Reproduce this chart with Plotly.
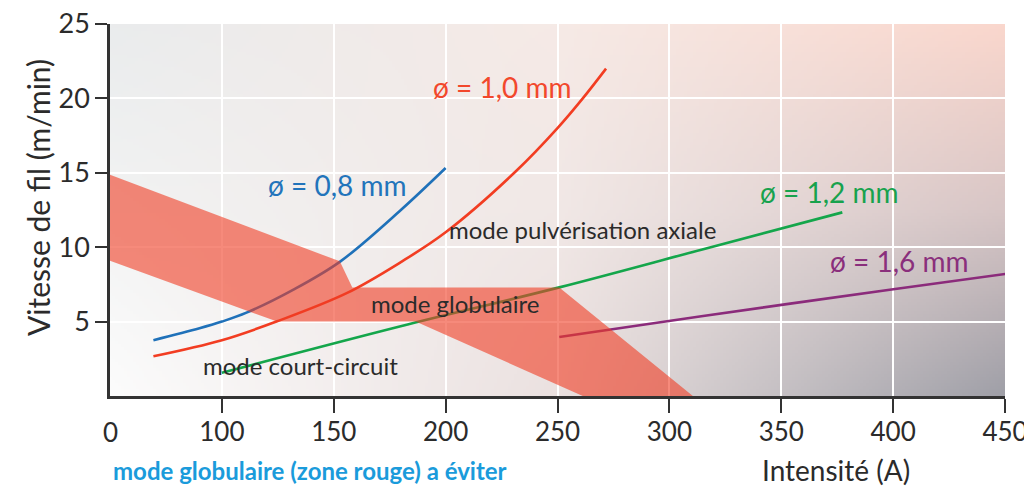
import base64
import struct
import zlib

import numpy as np
import plotly.graph_objects as go

# ---------------- data ----------------
x_tick_vals = [50, 100, 150, 200, 250, 300, 350, 400, 450]
x_tick_text = ["0", "100", "150", "200", "250", "300", "350", "400", "450"]
y_tick_vals = [5, 10, 15, 20, 25]
y_tick_text = ["5", "10", "15", "20", "25"]

d08_x = [69.4, 90, 100, 111, 132, 153, 180, 200]
d08_y = [3.75, 4.55, 5.0, 5.6, 7.15, 9.05, 12.5, 15.32]

d10_x = [69.4, 100, 124.7, 156, 180, 200, 231.4, 250, 261.3, 271.7]
d10_y = [2.67, 3.75, 5.02, 6.93, 9.0, 11.0, 15.1, 18.0, 20.0, 22.0]

d12_x = [100, 179.9, 250.8, 314.3, 377.3]
d12_y = [1.56, 4.69, 7.3, 9.83, 12.34]

d16_x = [250.8, 314.3, 400.9, 450.9]
d16_y = [3.97, 5.36, 7.19, 8.22]

zone_x = [50, 152.7, 158.3, 250.8, 310.5, 261.3, 186.6, 124.7, 50, 50]
zone_y = [14.87, 9.05, 7.3, 7.3, 0.0, 0.0, 5.0, 5.0, 9.09, 14.87]

series_names = ["ø = 0,8 mm", "ø = 1,0 mm", "ø = 1,2 mm", "ø = 1,6 mm"]
label_x = [151.5, 225.4, 371.6, 403.0]
label_y = [14.2, 20.75, 13.72, 9.05]

mode_names = ["mode pulvérisation axiale", "mode globulaire", "mode court-circuit"]
mode_x = [261.1, 204.2, 135.3]
mode_y = [11.22, 6.25, 2.05]

x_title = "Intensité (A)"
y_title = "Vitesse de fil (m/min)"
note = "mode globulaire (zone rouge) a éviter"

# ---------------- styles ----------------
FONT = "Lato"
colors = ["#1f71b9", "#f23d22", "#14a64b", "#8b2b7b"]
label_colors = ["#2274bb", "#f2482c", "#17a24d", "#8a2f7c"]
TXT = "#2b2b2b"
OFF = 8  # page body margin
FW, FH = 1032, 491
L, T = 102, 16
R = FW - (1005 - OFF)          # plot right edge at page x 1005
B = FH - (396 - OFF)           # plot bottom at page y 396
PW, PH = FW - L - R, FH - T - B


def make_png(rgb):
    h, w, _ = rgb.shape
    raw = b"".join(b"\x00" + rgb[r].astype(np.uint8).tobytes() for r in range(h))

    def chunk(tag, data):
        c = struct.pack(">I", len(data)) + tag + data
        return c + struct.pack(">I", zlib.crc32(tag + data) & 0xFFFFFFFF)

    png = b"\x89PNG\r\n\x1a\n"
    png += chunk(b"IHDR", struct.pack(">IIBBBBB", w, h, 8, 2, 0, 0, 0))
    png += chunk(b"IDAT", zlib.compress(raw, 9))
    png += chunk(b"IEND", b"")
    return "data:image/png;base64," + base64.b64encode(png).decode()


# background gradient (style only)
ctrl = np.array([
    [[234, 236, 237], [246, 234, 230], [250, 215, 205]],
    [[242, 243, 243], [241, 232, 230], [216, 198, 198]],
    [[252, 252, 252], [235, 225, 224], [160, 160, 168]],
], dtype=float)
W, H = 300, 125
u = np.linspace(0, 1, W)
v = np.linspace(0, 1, H)
knots = [0, 0.5, 1]
rows = np.zeros((3, W, 3))
for r in range(3):
    for ch in range(3):
        rows[r, :, ch] = np.interp(u, knots, ctrl[r, :, ch])
img = np.zeros((H, W, 3))
for ch in range(3):
    for i in range(W):
        img[:, i, ch] = np.interp(v, knots, rows[:, i, ch])
bg_src = make_png(np.clip(img, 0, 255))

fig = go.Figure()

for xs, ys, c in zip([d08_x, d10_x, d12_x, d16_x], [d08_y, d10_y, d12_y, d16_y], colors):
    fig.add_trace(go.Scatter(x=xs, y=ys, mode="lines", line=dict(color=c, width=2.6, shape="spline", smoothing=1.0),
                             hoverinfo="skip", showlegend=False))

fig.add_trace(go.Scatter(x=zone_x, y=zone_y, mode="lines", fill="toself", fillcolor="rgba(240,60,35,0.6)",
                         line=dict(width=0), hoverinfo="skip", showlegend=False))

fig.add_layout_image(dict(source=bg_src, xref="x", yref="y", x=50, y=25, sizex=400, sizey=25,
                          sizing="stretch", xanchor="left", yanchor="top", layer="below"))


def px_x(p):
    return (p - OFF - L) / PW


def px_y(p):
    return (FH - B - (p - OFF)) / PH


annotations = []
for t, x, y, c in zip(series_names, label_x, label_y, label_colors):
    annotations.append(dict(text=t, x=x, y=y, xref="x", yref="y", showarrow=False,
                            xanchor="center", yanchor="middle",
                            font=dict(family=FONT, size=28, color=c)))
for t, x, y in zip(mode_names, mode_x, mode_y):
    annotations.append(dict(text=t, x=x, y=y, xref="x", yref="y", showarrow=False,
                            xanchor="center", yanchor="middle",
                            font=dict(family=FONT, size=24, color=TXT)))
# first x tick label (axis starts at that tick, without tick mark)
annotations.append(dict(text=x_tick_text[0], x=x_tick_vals[0], y=px_y(432), xref="x", yref="paper",
                        showarrow=False, xanchor="center", yanchor="middle",
                        font=dict(family=FONT, size=26, color=TXT)))
annotations.append(dict(text=x_title, x=px_x(836), y=px_y(470), xref="paper", yref="paper", showarrow=False,
                        xanchor="center", yanchor="middle", font=dict(family=FONT, size=28, color=TXT)))
annotations.append(dict(text=y_title, x=px_x(38), y=px_y(198), xref="paper", yref="paper", showarrow=False,
                        xanchor="center", yanchor="middle", textangle=-90,
                        font=dict(family=FONT, size=30, color=TXT)))
annotations.append(dict(text="<b>" + note + "</b>", x=px_x(111), y=px_y(470), xref="paper", yref="paper",
                        showarrow=False, xanchor="left", yanchor="middle",
                        font=dict(family=FONT, size=24, color="#1a9bdb")))

fig.update_layout(
    width=FW, height=FH,
    margin=dict(l=L, r=R, t=T, b=B),
    paper_bgcolor="white", plot_bgcolor="white",
    annotations=annotations,
    xaxis=dict(range=[50, 450], tickvals=x_tick_vals[1:], ticktext=x_tick_text[1:], automargin=False,
               showgrid=True, gridcolor="white", gridwidth=2, zeroline=False,
               showline=True, linecolor="#333", linewidth=2.5,
               ticks="outside", ticklen=14, tickwidth=2, tickcolor="#333",
               ticklabelstandoff=-3, ticklabeloverflow="allow",
               tickfont=dict(family=FONT, size=26, color=TXT)),
    yaxis=dict(range=[0, 25], tickvals=y_tick_vals, ticktext=y_tick_text, automargin=False,
               showgrid=True, gridcolor="white", gridwidth=2, zeroline=False,
               showline=True, linecolor="#333", linewidth=2.5,
               ticks="outside", ticklen=12, tickwidth=2, tickcolor="#333",
               ticklabeloverflow="allow",
               tickfont=dict(family=FONT, size=27, color=TXT)),
)

fig.write_html(
    "out.html",
    post_script="document.documentElement.style.overflow='hidden';",
)
